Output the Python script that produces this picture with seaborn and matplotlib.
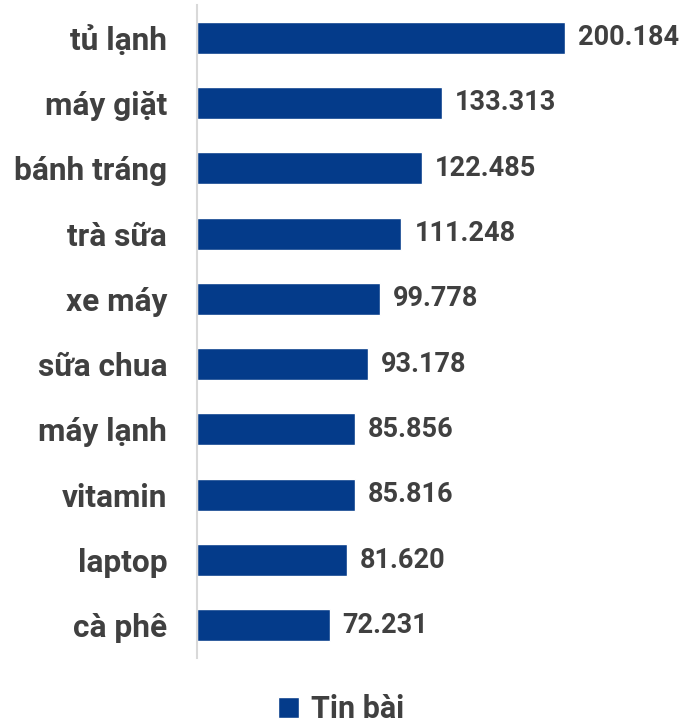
import matplotlib
matplotlib.use("Agg")
import matplotlib.pyplot as plt
import seaborn as sns
import pandas as pd

categories = ["tủ lạnh", "máy giặt", "bánh tráng", "trà sữa", "xe máy",
              "sữa chua", "máy lạnh", "vitamin", "laptop", "cà phê"]
values = [200.184, 133.313, 122.485, 111.248, 99.778,
          93.178, 85.856, 85.816, 81.620, 72.231]
labels = ["200.184", "133.313", "122.485", "111.248", "99.778",
          "93.178", "85.856", "85.816", "81.620", "72.231"]
series_name = "Tin bài"

sns.set_theme(style="white")
plt.rcParams['font.family'] = ['Roboto', 'DejaVu Sans']

df = pd.DataFrame({"cat": categories, "val": values})

fig = plt.figure(figsize=(6.82, 7.26), dpi=100)
ax = fig.add_axes([197/682, (726-658)/726, (682-197)/682, (658-5)/726])
ax.patch.set_alpha(0)

color = "#043B8A"
sns.barplot(data=df, x="val", y="cat", orient="h", color=color, width=0.49,
            saturation=1, ax=ax, label=series_name)

for i, (v, t) in enumerate(zip(values, labels)):
    ax.text(v + 7, i, t, va="center", ha="left", fontsize=19.5, fontweight="bold",
            color="#404040")

ax.set_xlim(0, 485/1.838)
ax.set_ylim(9.5, -0.5)
ax.set_xlabel("")
ax.set_ylabel("")
ax.set_xticks([])
for s in ["top", "right", "bottom"]:
    ax.spines[s].set_visible(False)
ax.spines["left"].set_color("#D9D9D9")
ax.spines["left"].set_linewidth(1.5)
ax.tick_params(axis="y", length=0, pad=21.5)
for lbl in ax.get_yticklabels():
    lbl.set_fontsize(22.8)
    lbl.set_fontweight("bold")
    lbl.set_color("#404040")

if ax.get_legend() is not None:
    ax.get_legend().remove()
h, l = ax.get_legend_handles_labels()
leg = fig.legend(h, l, loc="center", bbox_to_anchor=(0.5, 17/726), frameon=False,
                 prop={"weight": "bold", "size": 22}, handlelength=0.7,
                 handleheight=0.7, handletextpad=0.4)
for t in leg.get_texts():
    t.set_color("#404040")

fig.savefig("out.png", dpi=100)
